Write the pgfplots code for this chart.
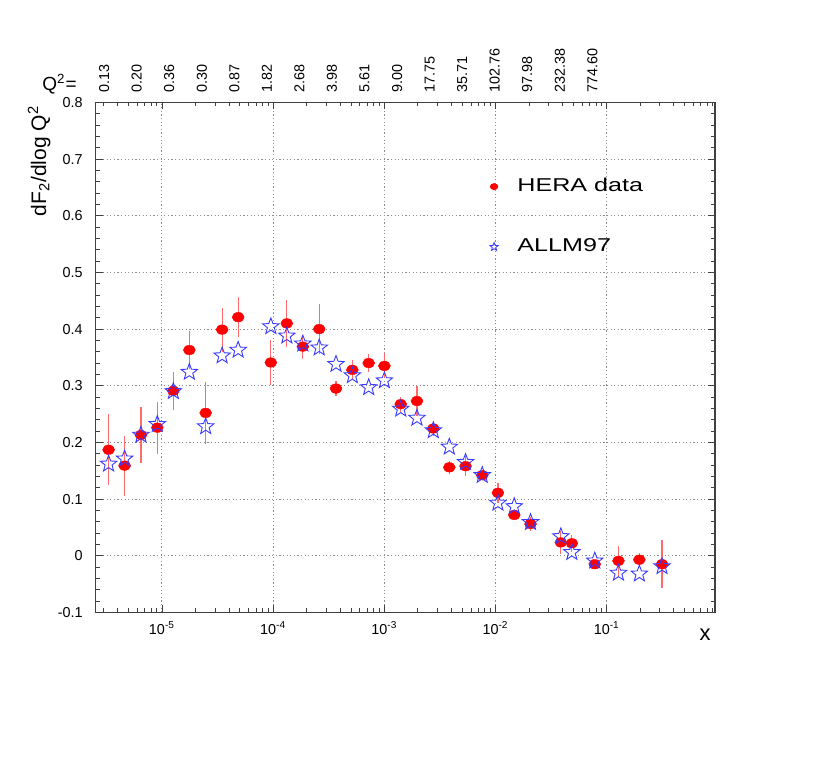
\documentclass[border=0pt]{standalone}
\usepackage{fontspec}
\setmainfont{Liberation Sans}
\newfontfamily\widefont[FakeStretch=1.35]{Liberation Sans}
\usepackage{pgfplots}
\usepackage{pgfplotstable}
\pgfplotsset{compat=1.18}
\usetikzlibrary{calc}

\definecolor{herared}{HTML}{FF0000}
\definecolor{errred}{HTML}{FF6A6A}
\definecolor{allmblue}{HTML}{3A3AFF}
\definecolor{gridgray}{HTML}{8C8C8C}

% open five-pointed star
\pgfdeclareplotmark{ostar}{%
  \pgfpathmoveto{\pgfpointpolar{90}{\pgfplotmarksize}}%
  \pgfpathlineto{\pgfpointpolar{126}{0.42\pgfplotmarksize}}%
  \pgfpathlineto{\pgfpointpolar{162}{\pgfplotmarksize}}%
  \pgfpathlineto{\pgfpointpolar{198}{0.42\pgfplotmarksize}}%
  \pgfpathlineto{\pgfpointpolar{234}{\pgfplotmarksize}}%
  \pgfpathlineto{\pgfpointpolar{270}{0.42\pgfplotmarksize}}%
  \pgfpathlineto{\pgfpointpolar{306}{\pgfplotmarksize}}%
  \pgfpathlineto{\pgfpointpolar{342}{0.42\pgfplotmarksize}}%
  \pgfpathlineto{\pgfpointpolar{18}{\pgfplotmarksize}}%
  \pgfpathlineto{\pgfpointpolar{54}{0.42\pgfplotmarksize}}%
  \pgfpathclose
  \pgfusepathqstroke
}

% x, HERA dF2/dlogQ2, error, ALLM97
\pgfplotstableread{
x         f2      err    allm
3.311e-6  0.187   0.063  0.162
4.613e-6  0.159   0.053  0.171
6.471e-6  0.213   0.049  0.213
9.078e-6  0.226   0.046  0.232
1.265e-5  0.291   0.034  0.290
1.762e-5  0.363   0.034  0.324
2.472e-5  0.252   0.054  0.228
3.475e-5  0.399   0.039  0.353
4.842e-5  0.421   0.035  0.363
9.528e-5  0.341   0.040  0.4045
1.327e-4  0.410   0.041  0.388
1.849e-4  0.369   0.021  0.374
2.594e-4  0.400   0.044  0.367
3.673e-4  0.295   0.014  0.338
5.152e-4  0.328   0.018  0.318
7.228e-4  0.340   0.016  0.297
1.000e-3  0.335   0.022  0.309
1.403e-3  0.2675  0.013  0.259
1.963e-3  0.273   0.026  0.243
2.754e-3  0.2245  0.014  0.221
3.837e-3  0.156   0.012  0.192
5.370e-3  0.158   0.018  0.165
7.586e-3  0.142   0.009  0.142
1.050e-2  0.111   0.018  0.093
1.472e-2  0.072   0.005  0.087
2.061e-2  0.056   0.012  0.059
3.864e-2  0.0235  0.021  0.034
4.853e-2  0.022   0.015  0.006
7.798e-2  -0.015  0.007  -0.009
0.1274    -0.009  0.026  -0.0305
0.1963    -0.007  0.011  -0.032
0.3141    -0.015  0.042  -0.019
}\heradata

\begin{document}
\begin{tikzpicture}
\begin{axis}[
    name=main,
    scale only axis,
    width=309.6pt, height=255pt,
    xmode=log,
    xmin=2.54e-6, xmax=0.94,
    ymin=-0.1, ymax=0.8,
    xtick={1e-5,1e-4,1e-3,1e-2,1e-1},
    xticklabels={10\textsuperscript{-5},10\textsuperscript{-4},10\textsuperscript{-3},10\textsuperscript{-2},10\textsuperscript{-1}},
    minor xtick={3e-6,4e-6,5e-6,6e-6,7e-6,8e-6,9e-6,
                 2e-5,3e-5,4e-5,5e-5,6e-5,7e-5,8e-5,9e-5,
                 2e-4,3e-4,4e-4,5e-4,6e-4,7e-4,8e-4,9e-4,
                 2e-3,3e-3,4e-3,5e-3,6e-3,7e-3,8e-3,9e-3,
                 2e-2,3e-2,4e-2,5e-2,6e-2,7e-2,8e-2,9e-2,
                 0.2,0.3,0.4,0.5,0.6,0.7,0.8,0.9},
    ytick={-0.1,0,0.1,0.2,0.3,0.4,0.5,0.6,0.7,0.8},
    minor y tick num=4,
    /pgf/number format/assume math mode=true,
    ticklabel style={font=\fontsize{7.2}{8}\selectfont, black},
    yticklabel style={xshift=-3pt, /pgf/number format/fixed, /pgf/number format/precision=1},
    xticklabel style={yshift=-1pt},
    tick align=inside,
    major tick length=3.5pt,
    minor tick length=2pt,
    tick style={black!75, line width=0.4pt},
    axis line style={black!75, line width=0.7pt},
    grid=major,
    grid style={gridgray, line width=0.5pt, dash pattern=on 0.6pt off 1.2pt},
    clip=false,
    legend style={at={(0.629,0.776)}, anchor=west, draw=none, fill=none,
                  font=\widefont\fontsize{9.3}{10}\selectfont,
                  row sep=18pt, inner sep=0pt},
    legend cell align=left,
]
\addplot[only marks, mark=*, mark size=2.4pt,
         mark options={fill=herared, draw=herared, line width=0.2pt, xscale=1.25},
         error bars/.cd, y dir=both, y explicit, error mark=none,
         error bar style={errred, line width=0.6pt}]
    table[x=x, y=f2, y error=err] {\heradata};
\addlegendentry{HERA data}
\addplot[only marks, mark=ostar, mark size=4.3pt,
         mark options={draw=allmblue, line width=0.45pt}]
    table[x=x, y=allm] {\heradata};
\addlegendentry{ALLM97}
\pgfplotsset{
    every axis plot no 0/.append style={legend image code/.code={
        \path (0pt,0pt) (13.5pt,0pt);
        \draw[mark size=1.5pt, mark options={fill=herared, draw=herared, xscale=1.25}]
            plot coordinates {(4pt,0pt)};}},
    every axis plot no 1/.append style={legend image code/.code={
        \path (0pt,0pt) (13.5pt,0pt);
        \draw[mark size=2.2pt, mark options={draw=allmblue, line width=0.4pt}]
            plot coordinates {(4pt,0pt)};}},
}

% Q^2 values along the top
\foreach \xq/\lab in {3.020e-6/0.13, 5.925e-6/0.20, 1.1626e-5/0.36, 2.2808e-5/0.30,
                      4.475e-5/0.87, 8.780e-5/1.82, 1.7226e-4/2.68, 3.380e-4/3.98,
                      6.631e-4/5.61, 1.3010e-3/9.00, 2.5527e-3/17.75, 5.008e-3/35.71,
                      9.826e-3/102.76, 1.9279e-2/97.98, 3.782e-2/232.38, 7.421e-2/774.60}{
    \edef\temp{\noexpand\node[rotate=90, anchor=west, inner xsep=4.5pt, inner ysep=0pt,
        font=\noexpand\fontsize{7.2}{8}\noexpand\selectfont] at (axis cs:\xq,0.8) {\lab};}
    \temp
}
\end{axis}

\node[rotate=90, anchor=south east, inner sep=0pt, font=\fontsize{10.5}{12}\selectfont]
    at ($(main.north west)+(-22.5pt,-1.5pt)$) {dF\textsubscript{2}/dlog Q\textsuperscript{2}};
\node[anchor=base west, inner sep=0pt, font=\fontsize{9.5}{10}\selectfont]
    at ($(main.north west)+(-26.9pt,5.7pt)$) {Q\textsuperscript{2}=};
\node[font=\fontsize{11}{12}\selectfont] at ($(main.south east)+(-5pt,-11pt)$) {x};

\pgfresetboundingbox
\path ($(main.south west)+(-47.9pt,-75.15pt)$) rectangle ($(main.north east)+(57.5pt,51.2pt)$);
\end{tikzpicture}
\end{document}
